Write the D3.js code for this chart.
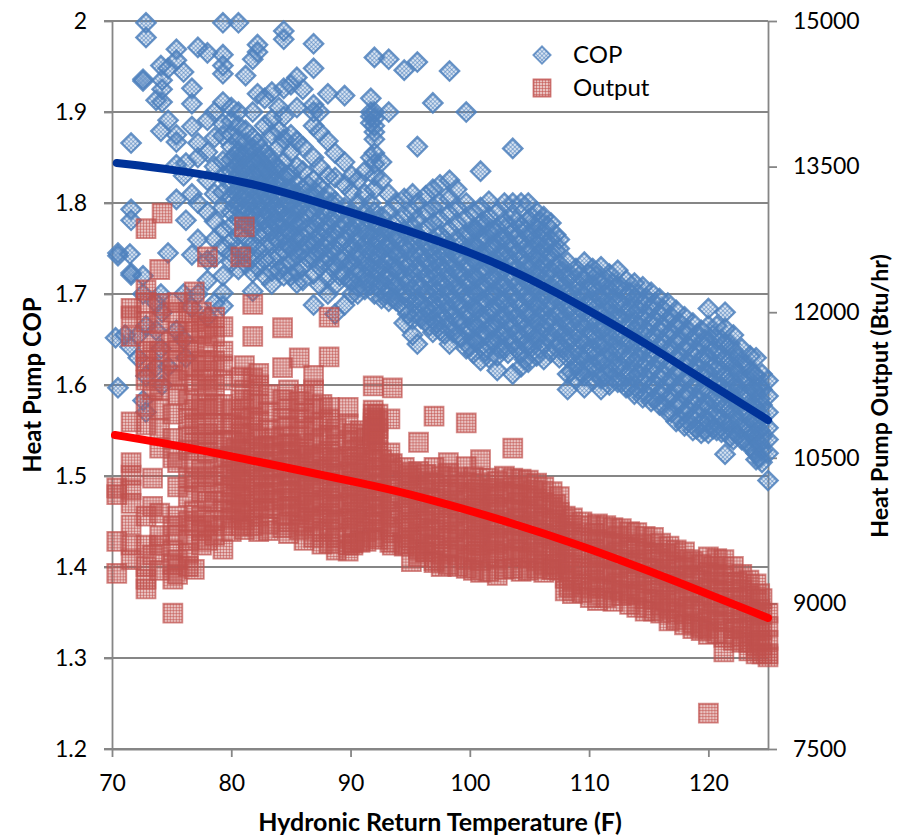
<!DOCTYPE html>
<html>
<head>
<meta charset="utf-8">
<script src="https://d3js.org/d3.v7.min.js"></script>
<style>
  html, body { margin: 0; padding: 0; background: #fff; }
  text { font-family: Lato, "Noto Sans", sans-serif; fill: #000; }
</style>
</head>
<body>
<div id="chart"></div>
<script>
// Axis ticks
const xTicks = [70, 80, 90, 100, 110, 120];
const copTicks = [1.2, 1.3, 1.4, 1.5, 1.6, 1.7, 1.8, 1.9, 2];
const outputTicks = [7500, 9000, 10500, 12000, 13500, 15000];

// Scatter data, each row is [temperature, value, value, ...]
const copRows = [
  [70.3,1.652],[70.5,1.745,1.742,1.597],[71.1,1.655],[71.5,1.642,1.744],
  [71.6,1.866,1.793,1.781,1.723,1.721],[72.2,1.655,1.63],[72.6,1.936,1.934,1.583,1.72,1.70],
  [72.85,1.998,1.982,1.57,1.665,1.61],[73.7,1.913,1.66,1.62,1.69],[74.1,1.951,1.879,1.70,1.64],
  [74.2,1.935,1.925,1.911,1.68,1.60],[74.7,1.948,1.891,1.745,1.62],[75.4,1.969,1.957,1.875,1.867,1.842,1.804,1.66],
  [76,1.944,1.83,1.70,1.65],[76.2,1.781,1.844,1.63],[76.7,1.926,1.909,1.884,1.743,1.81,1.685],
  [77.2,1.971,1.866,1.85,1.80,1.76,1.70],[78,1.965,1.891,1.856,1.825,1.79,1.737,1.715,1.675],
  [78.6,1.90,1.872,1.84,1.81,1.78,1.76,1.74,1.69],
  [79.3,1.998,1.963,1.951,1.942,1.911,1.887,1.874,1.846,1.83,1.812,1.795,1.77,1.752,1.72,1.701,1.687],
  [80,1.905,1.89,1.875,1.862,1.848,1.835,1.82,1.806,1.79,1.775,1.758,1.745,1.735],
  [80.6,1.998,1.90,1.885,1.87,1.857,1.843,1.83,1.815,1.80,1.782,1.765,1.75,1.727],
  [81.2,1.94,1.88,1.866,1.852,1.838,1.824,1.81,1.795,1.778,1.762,1.745,1.733],
  [81.8,1.958,1.90,1.872,1.86,1.845,1.832,1.818,1.803,1.788,1.772,1.755,1.74,1.724,1.703],
  [82.2,1.974,1.966,1.92,1.866,1.85,1.837,1.825,1.81,1.796,1.78,1.766,1.75,1.73],
  [82.8,1.915,1.885,1.855,1.84,1.826,1.812,1.798,1.782,1.768,1.752,1.738,1.72],
  [83.4,1.922,1.892,1.875,1.845,1.83,1.815,1.80,1.785,1.77,1.755,1.74,1.725,1.711],
  [84,1.905,1.88,1.862,1.838,1.82,1.805,1.79,1.773,1.758,1.742,1.726],
  [84.4,1.989,1.98,1.926,1.895,1.87,1.845,1.828,1.81,1.795,1.78,1.765,1.748,1.73,1.72],
  [85,1.93,1.875,1.856,1.832,1.816,1.80,1.785,1.768,1.752,1.736,1.72],
  [85.5,1.938,1.905,1.868,1.84,1.822,1.806,1.79,1.775,1.758,1.742,1.725,1.712],
  [86,1.925,1.862,1.835,1.815,1.798,1.78,1.763,1.748,1.73,1.715],
  [86.9,1.975,1.948,1.908,1.90,1.885,1.85,1.825,1.807,1.79,1.772,1.755,1.74,1.722,1.688],
  [87.4,1.90,1.878,1.84,1.818,1.80,1.782,1.765,1.748,1.73,1.71],
  [88.1,1.92,1.868,1.83,1.81,1.793,1.776,1.758,1.74,1.70,1.718],
  [88.7,1.855,1.828,1.802,1.785,1.768,1.75,1.732,1.71,1.678],
  [89.5,1.918,1.845,1.82,1.795,1.778,1.76,1.74,1.72,1.688],
  [90.1,1.83,1.812,1.79,1.772,1.752,1.735,1.715,1.70],
  [90.6,1.825,1.80,1.782,1.763,1.745,1.727,1.708,1.70],
  [91.2,1.835,1.81,1.79,1.772,1.755,1.737,1.72,1.705],
  [91.7,1.915,1.90,1.895,1.888,1.85,1.80,1.78,1.762,1.745,1.728,1.71],
  [92,1.96,1.90,1.893,1.885,1.878,1.87,1.855,1.843,1.83,1.815,1.79,1.77,1.753,1.736,1.718,1.70],
  [92.6,1.845,1.825,1.785,1.765,1.748,1.73,1.713,1.695],
  [93.2,1.958,1.90,1.81,1.79,1.772,1.755,1.74,1.722,1.705,1.692],
  [93.8,1.80,1.78,1.763,1.745,1.728,1.71,1.693],
  [94.5,1.946,1.805,1.785,1.77,1.752,1.735,1.718,1.70,1.685,1.668],
  [95.2,1.81,1.79,1.774,1.756,1.74,1.722,1.705,1.69,1.672,1.655],
  [95.6,1.955,1.862,1.80,1.782,1.765,1.748,1.73,1.712,1.695,1.68,1.645],
  [96.3,1.808,1.79,1.772,1.755,1.738,1.72,1.703,1.685,1.67],
  [96.9,1.91,1.815,1.795,1.778,1.76,1.744,1.726,1.708,1.69,1.672,1.658],
  [97.5,1.82,1.80,1.782,1.765,1.748,1.73,1.713,1.695,1.678,1.66],
  [98.3,1.825,1.945,1.805,1.788,1.77,1.752,1.735,1.718,1.70,1.683,1.665,1.645],
  [98.9,1.815,1.795,1.778,1.76,1.742,1.725,1.708,1.69,1.672,1.655],
  [99.7,1.90,1.80,1.782,1.765,1.748,1.73,1.713,1.696,1.678,1.66,1.64],
  [100.3,1.79,1.772,1.755,1.738,1.72,1.703,1.686,1.668,1.65,1.635],
  [100.9,1.835,1.795,1.778,1.76,1.743,1.726,1.708,1.69,1.673,1.655,1.627],
  [101.6,1.802,1.785,1.768,1.75,1.733,1.715,1.698,1.68,1.663,1.645,1.63],
  [102.3,1.79,1.772,1.755,1.738,1.72,1.703,1.686,1.668,1.65,1.632,1.616],
  [102.9,1.80,1.78,1.762,1.745,1.728,1.71,1.693,1.676,1.658,1.64],
  [103.6,1.86,1.80,1.785,1.768,1.75,1.733,1.716,1.698,1.68,1.663,1.645,1.612],
  [104.3,1.80,1.775,1.758,1.74,1.723,1.706,1.688,1.67,1.653,1.635,1.62],
  [104.9,1.80,1.782,1.765,1.748,1.73,1.713,1.696,1.678,1.66,1.643,1.625],
  [105.6,1.79,1.772,1.755,1.738,1.72,1.703,1.686,1.668,1.65,1.632],
  [106.2,1.785,1.768,1.75,1.733,1.716,1.698,1.68,1.663,1.645,1.628],
  [106.8,1.778,1.76,1.743,1.726,1.708,1.69,1.673,1.655,1.636],
  [107.5,1.76,1.75,1.733,1.716,1.698,1.68,1.663,1.645,1.63],
  [108.2,1.735,1.718,1.70,1.683,1.665,1.648,1.612,1.595,1.63],
  [108.9,1.728,1.71,1.693,1.675,1.658,1.64,1.622,1.606],
  [109.6,1.735,1.715,1.698,1.68,1.663,1.645,1.627,1.61,1.597],
  [110.3,1.728,1.71,1.693,1.675,1.658,1.64,1.622,1.605],
  [111,1.73,1.712,1.695,1.678,1.66,1.643,1.625,1.607,1.595],
  [111.7,1.722,1.705,1.688,1.67,1.653,1.636,1.618,1.60],
  [112.4,1.726,1.708,1.69,1.673,1.656,1.638,1.62,1.603],
  [113.1,1.715,1.698,1.68,1.663,1.646,1.628,1.61,1.597],
  [113.8,1.712,1.695,1.678,1.66,1.643,1.625,1.608,1.59],
  [114.5,1.708,1.69,1.673,1.656,1.638,1.62,1.603,1.586],
  [115.2,1.702,1.685,1.668,1.65,1.633,1.616,1.598,1.582],
  [115.9,1.695,1.678,1.66,1.643,1.626,1.608,1.59,1.578],
  [116.6,1.69,1.672,1.655,1.638,1.62,1.603,1.585,1.57],
  [117.3,1.682,1.665,1.648,1.63,1.613,1.596,1.578,1.56],
  [118,1.675,1.658,1.64,1.623,1.606,1.588,1.57,1.555],
  [118.7,1.668,1.65,1.633,1.616,1.598,1.58,1.563,1.55],
  [119.4,1.66,1.645,1.628,1.61,1.593,1.575,1.558,1.547],
  [120,1.684,1.665,1.648,1.63,1.613,1.596,1.578,1.56,1.547],
  [120.7,1.665,1.65,1.633,1.616,1.598,1.58,1.563,1.55],
  [121.4,1.68,1.662,1.645,1.628,1.61,1.593,1.575,1.558,1.549,1.524],
  [122.1,1.655,1.638,1.62,1.603,1.586,1.568,1.55,1.54],
  [122.8,1.64,1.622,1.605,1.588,1.57,1.553,1.54],
  [123.5,1.632,1.615,1.598,1.58,1.563,1.547,1.532],
  [124,1.63,1.61,1.592,1.575,1.558,1.54,1.525,1.518],
  [124.5,1.612,1.595,1.578,1.56,1.543,1.528,1.515],
  [125,1.605,1.588,1.57,1.553,1.54,1.525,1.495]
];

// The crowded middle of the COP cloud, where single markers can only be estimated
const copCoreRows = [
  [80.3,1.852,1.84,1.826,1.812,1.797],[80.9,1.85,1.836,1.82,1.806,1.79],[81.5,1.858,1.844,1.83,1.816,1.80,1.785],
  [82.5,1.86,1.845,1.832,1.818,1.803,1.788],[83.1,1.85,1.836,1.822,1.806,1.79,1.775],[83.7,1.84,1.825,1.81,1.795,1.78,1.763],
  [84.7,1.83,1.815,1.80,1.785,1.77,1.755],[85.3,1.81,1.795,1.78,1.763,1.747],[86.4,1.82,1.806,1.79,1.772,1.755,1.74],
  [87.1,1.812,1.795,1.778,1.76,1.745],[87.8,1.805,1.788,1.77,1.752,1.735],[88.4,1.80,1.782,1.765,1.748,1.73],
  [89.1,1.79,1.772,1.755,1.738,1.72],[89.9,1.785,1.768,1.75,1.733,1.715],[90.4,1.775,1.757,1.74,1.722],
  [91.5,1.782,1.765,1.748,1.73,1.713],[92.3,1.778,1.76,1.743,1.726,1.708],[92.9,1.77,1.752,1.735,1.718,1.70],
  [93.5,1.765,1.748,1.73,1.713,1.696],[94.1,1.76,1.743,1.726,1.708,1.69],[94.8,1.765,1.748,1.73,1.712,1.695,1.678],
  [95.9,1.76,1.742,1.725,1.707,1.69,1.673],[96.6,1.75,1.733,1.716,1.698,1.68,1.665],[97.2,1.755,1.737,1.72,1.703,1.685,1.668],
  [97.9,1.76,1.743,1.726,1.708,1.69,1.673,1.656],[98.6,1.745,1.728,1.71,1.693,1.676,1.658],[99.3,1.755,1.74,1.722,1.705,1.687,1.67,1.652],
  [100,1.765,1.747,1.73,1.712,1.695,1.677,1.66,1.642],[100.6,1.77,1.752,1.735,1.717,1.70,1.682,1.664,1.647],
  [101.3,1.777,1.76,1.742,1.725,1.707,1.69,1.672,1.655,1.637],[101.9,1.77,1.752,1.735,1.718,1.70,1.683,1.665,1.648],
  [102.6,1.762,1.745,1.727,1.71,1.693,1.675,1.657,1.64],[103.2,1.775,1.757,1.74,1.722,1.705,1.687,1.67,1.652,1.635],
  [103.9,1.78,1.762,1.745,1.727,1.71,1.692,1.675,1.657,1.64],[104.6,1.77,1.75,1.733,1.715,1.698,1.68,1.662,1.645,1.628],
  [105.2,1.785,1.765,1.748,1.73,1.712,1.695,1.677,1.66,1.642],[105.9,1.78,1.762,1.745,1.727,1.71,1.692,1.675,1.657,1.64],
  [106.5,1.775,1.757,1.74,1.722,1.705,1.687,1.67,1.652],[107.2,1.765,1.748,1.73,1.712,1.695,1.677,1.66,1.642],
  [107.8,1.725,1.708,1.69,1.672,1.655,1.64],[108.5,1.72,1.702,1.685,1.667,1.65,1.632,1.615],
  [109.2,1.72,1.703,1.685,1.668,1.65,1.633,1.615],[109.9,1.722,1.705,1.688,1.67,1.653,1.635,1.618],
  [110.6,1.72,1.702,1.685,1.667,1.65,1.632,1.614],[111.3,1.715,1.698,1.68,1.663,1.645,1.628,1.61],
  [112,1.712,1.695,1.678,1.66,1.643,1.625,1.608],[112.7,1.708,1.69,1.673,1.655,1.638,1.62,1.603],
  [113.4,1.702,1.685,1.668,1.65,1.633,1.615,1.598],[114.1,1.70,1.683,1.665,1.648,1.63,1.612,1.595],
  [114.8,1.695,1.678,1.66,1.643,1.625,1.608,1.59],[115.5,1.69,1.672,1.655,1.637,1.62,1.602,1.585],
  [116.2,1.683,1.665,1.648,1.63,1.613,1.595,1.578],[116.9,1.675,1.658,1.64,1.623,1.605,1.588,1.57],
  [117.6,1.668,1.65,1.633,1.615,1.598,1.58,1.563],[118.3,1.66,1.643,1.625,1.608,1.59,1.573,1.56],
  [119,1.655,1.637,1.62,1.602,1.585,1.568,1.552],[119.7,1.65,1.632,1.615,1.597,1.58,1.563,1.55],
  [120.4,1.655,1.638,1.62,1.603,1.585,1.568,1.552],[121.1,1.65,1.633,1.615,1.598,1.58,1.563,1.548],
  [121.8,1.645,1.628,1.61,1.593,1.575,1.558,1.543],[122.5,1.63,1.613,1.595,1.578,1.56,1.545],
  [123.2,1.622,1.605,1.588,1.57,1.553,1.538],[123.8,1.612,1.595,1.578,1.56,1.545,1.53],[124.3,1.60,1.585,1.568,1.55,1.535,1.52]
];

const outputRows = [
  [70.4,10190,10120,9640,9310],
  [71.6,12040,11960,11750,10870,10450,10320,10170,10030,9810,9600,9450],
  [72.85,12860,12230,12100,11900,11600,11500,11440,11300,11050,10840,9900,9600,9380,9150,9250],
  [73.4,11700,11200,10290,10000,9500],[74,12440,12090,11880,11600,11400,11200,11000,10800,10600,9930,9700,9600,9340],
  [74.2,13020],[75.1,12000,11700,11500,11350,10950,10700,10500,9800,9550,9400,9250,8900],
  [75.5,12100,11800,11600,11300,11150,10450,10200,9900,9700,9450,9300],
  [76.4,12000,11800,11600,11400,11100,10900,10720,10580,10300,10100,9850,9650,9520,9380],
  [76.9,12210,11900,11650,11450,11250,11000,10850,10650,10450,10250,9950,9800,9350],
  [77.5,12000,11780,11500,11300,11050,10850,10650,10380,10150,9900,9750,9600],
  [78,12570,11640,11850,11400,11200,11000,10750,10550,10300,10050,9800,9650],
  [78.6,11950,11750,11500,11250,11050,10850,10650,10450,10250,10050,9850,9700],
  [79.3,11850,11600,11450,11300,11050,10850,10680,10500,10320,10140,9960,9800,9560],
  [80,11000,10850,10680,10520,10360,10200,10040,9880,9740],
  [80.8,12570,11330,11100,10900,10750,10580,10420,10260,10100,9940,9800],
  [81.1,12880,11450,11200,11000,10820,10660,10500,10340,10180,10020,9860,9760],
  [81.8,12080,11750,11320,11100,10920,10750,10600,10440,10280,10120,9960,9800],
  [82.3,11370,11250,11050,10880,10700,10540,10380,10220,10060,9900,9740],
  [83.1,11150,10970,10790,10620,10460,10300,10140,9980,9820,9750],
  [84.3,11840,11430,11100,10900,10720,10560,10400,10240,10080,9920,9780],
  [84.8,11200,11000,10820,10640,10480,10320,10160,10000,9840,9720],
  [85.7,11530,11080,10900,10720,10560,10400,10240,10080,9920,9760],
  [86.1,11150,10960,10780,10600,10440,10280,10120,9960,9800,9650],
  [86.9,11350,11200,11000,10820,10650,10490,10330,10170,10010,9850,9680],
  [87.6,11050,10870,10700,10540,10380,10220,10060,9900,9740,9610],
  [88.2,11950,11540,11020,10900,10730,10570,10410,10250,10090,9930,9770,9620],
  [88.8,10800,10640,10480,10320,10160,10000,9840,9680,9550],
  [89.8,11020,10850,10680,10520,10360,10200,10040,9880,9720,9600,9540],
  [90.2,10750,10580,10420,10260,10100,9940,9780,9620,9600],
  [90.8,10780,10610,10450,10290,10130,9970,9810,9650,9630],
  [91.3,10700,10540,10380,10220,10060,9900,9740,9640],
  [91.9,11240,10990,10950,10900,10860,10820,10780,10740,10700,10640,10480,10320,10160,10000,9840,9680],
  [92.3,10950,10880,10800,10740,10680,10560,10400,10240,10080,9920,9760,9660],
  [93.3,10900,10550,10430,10270,10110,9950,9790,9630],
  [93.5,11220,10440,10370,10210,10050,9890,9730,9600],
  [94.5,10400,10250,10090,9930,9770,9610,9590],
  [95.1,10350,10290,10130,9970,9810,9650,9430],
  [95.7,10660,10360,10200,10040,9880,9720,9560,9480],
  [96.3,10330,10170,10010,9850,9690,9530,9530],
  [97,10930,10400,10240,10080,9920,9760,9600,9440,9420],
  [97.6,10310,10150,9990,9830,9670,9510,9380],
  [98.2,10450,10340,10180,10020,9860,9700,9540,9400],
  [99,10300,10140,9980,9820,9660,9500,9380],
  [99.7,10860,10410,10250,10090,9930,9770,9610,9450,9360],
  [100.3,10300,10140,9980,9820,9660,9500,9340],
  [100.9,10480,10240,10080,9920,9760,9600,9440,9320],
  [101.6,10290,10130,9970,9810,9650,9490,9330],
  [102.3,10260,10100,9940,9780,9620,9460,9290],
  [102.9,10310,10150,9990,9830,9670,9510,9350],
  [103.6,10600,10290,10130,9970,9810,9650,9490,9360],
  [104.3,10280,10120,9960,9800,9640,9480,9330],
  [104.9,10270,10110,9950,9790,9630,9470,9340],
  [105.6,10240,10080,9920,9760,9600,9440,9360],
  [106.2,10200,10040,9880,9720,9560,9400,9320],
  [106.9,10150,9990,9830,9670,9510,9350,9350],
  [107.5,10100,9940,9780,9620,9460,9340],
  [108,9900,9740,9580,9420,9260,9130],
  [108.6,9880,9720,9560,9400,9240,9100],
  [109.4,9840,9680,9520,9360,9200,9110],
  [110.1,9800,9640,9480,9320,9160,9060],
  [110.7,9820,9660,9500,9340,9180,9030],
  [111.4,9800,9640,9480,9320,9160,9060],
  [112,9780,9620,9460,9300,9140,9020],
  [112.7,9770,9610,9450,9290,9130,9080],
  [113.4,9740,9580,9420,9260,9100,8990],
  [114,9730,9570,9410,9250,9090,8960],
  [114.7,9690,9530,9370,9210,9050,8920],
  [115.4,9680,9520,9360,9200,9040,8920],
  [116,9620,9460,9300,9140,8980,8900],
  [116.7,9590,9430,9270,9110,8950,8820],
  [117.3,9550,9390,9230,9070,8910,8830],
  [118,9530,9370,9210,9050,8890,8780],
  [118.7,9430,9270,9110,8950,8800,8740],
  [119.4,9400,9240,9080,8920,8760,8720],
  [120,9480,9320,9160,9000,8840,8680,8740,7870],
  [120.7,9460,9300,9140,8980,8820,8690],
  [121.3,9450,9290,9130,8970,8810,8650,8500],
  [122.1,9380,9220,9060,8900,8740,8620],
  [122.8,9300,9140,8980,8820,8660,8600],
  [123.4,9240,9080,8920,8760,8600,8510],
  [124,9200,9040,8880,8720,8560,8480],
  [124.5,9050,8890,8730,8570,8480],
  [125,8900,8760,8620,8480,8450]
];

// Same for the crowded middle of the output cloud
const outputCoreRows = [
  [80.4,10600,10440,10280,10120,9960],[82.7,10620,10460,10300,10140,9980],[83.6,10700,10540,10380,10220,10060],
  [85,10640,10480,10320,10160,10000],[86.5,10520,10360,10200,10040,9880],[88.5,10500,10340,10180,10020,9860],
  [90.5,10500,10340,10180,10020,9860],[92.6,10480,10320,10160,10000,9840],[94.8,10320,10160,10000,9840,9680],
  [96.6,10250,10090,9930,9770,9610],[98.6,10220,10060,9900,9740,9580],[100.6,10180,10020,9860,9700,9540],
  [102,10180,10020,9860,9700,9540],[104,10200,10040,9880,9720,9560],[105.3,10160,10000,9840,9680,9520],
  [107.2,10020,9860,9700,9540,9400],[108.3,9810,9650,9490,9330,9170],[110.4,9720,9560,9400,9240],
  [112.4,9690,9530,9370,9210],[114.4,9610,9450,9290,9130],[116.4,9510,9350,9190,9030],
  [118.4,9450,9290,9130,8970],[120.4,9380,9220,9060,8900],[122.4,9220,9060,8900,8740],[124.3,9100,8940,8780,8620]
];

// Trend lines, temperature plus value
const trendTemps = [70.4, 75, 81.6, 88, 94.2, 100, 105, 110, 115, 120, 125];
const copTrend = [1.844, 1.837, 1.823, 1.798, 1.7725, 1.7465, 1.7176, 1.682, 1.644, 1.602, 1.5615];
const outputTrendTemps = [70.25, 75.3, 81.6, 92.5, 94.2, 100.9, 109.3, 117.7, 125];
const outputTrend = [10735, 10632, 10477, 10199, 10148, 9931, 9602, 9210, 8850];

const width = 907;
const height = 836;
const margin = {top: 21, right: 139, bottom: 87, left: 112};

const svg = d3.select("#chart").append("svg")
    .attr("width", width)
    .attr("height", height)
    .style("display", "block");

const x = d3.scaleLinear().domain([70, 125]).range([margin.left, width - margin.right]);
const yCop = d3.scaleLinear().domain([1.2, 2]).range([height - margin.bottom, margin.top]);
const yOutput = d3.scaleLinear().domain([7500, 15000]).range([height - margin.bottom, margin.top]);

// Marker fills, the pattern moves with each marker's translate so overlaps build up
const defs = svg.append("defs");
function addGrid(id, color, base, line) {
    const p = defs.append("pattern")
        .attr("id", id)
        .attr("patternUnits", "userSpaceOnUse")
        .attr("width", 3)
        .attr("height", 3);
    p.append("rect").attr("width", 3).attr("height", 3).attr("fill", color).attr("opacity", base);
    p.append("rect").attr("width", 3).attr("height", 1).attr("fill", color).attr("opacity", line);
    p.append("rect").attr("width", 1).attr("height", 3).attr("fill", color).attr("opacity", line);
}
addGrid("gridBlue", "#4F81BD", 0.22, 0.55);
addGrid("gridRed", "#C0504D", 0.35, 0.55);

// Gridlines first, they run under the markers
svg.append("g")
    .selectAll("line")
    .data(copTicks)
    .enter().append("line")
    .attr("x1", margin.left - 8)
    .attr("x2", width - margin.right)
    .attr("y1", d => yCop(d))
    .attr("y2", d => yCop(d))
    .attr("stroke", "#868686")
    .attr("stroke-width", 1.8);

const xAxis = svg.append("g")
    .attr("transform", `translate(0,${height - margin.bottom})`)
    .call(d3.axisBottom(x).tickValues(xTicks).tickSize(8).tickSizeOuter(0).tickPadding(18));
const leftAxis = svg.append("g")
    .attr("transform", `translate(${margin.left},0)`)
    .call(d3.axisLeft(yCop).tickValues(copTicks).tickFormat(d => d === 2 ? "2" : d3.format(".1f")(d)).tickSize(8).tickSizeOuter(0).tickPadding(17));
const rightAxis = svg.append("g")
    .attr("transform", `translate(${width - margin.right},0)`)
    .call(d3.axisRight(yOutput).tickValues(outputTicks).tickFormat(d3.format("d")).tickSize(9).tickSizeOuter(0).tickPadding(16));

[xAxis, leftAxis, rightAxis].forEach(a => {
    a.selectAll("path").attr("stroke", "#868686").attr("stroke-width", 1.8);
    a.selectAll("line").attr("stroke", "#868686").attr("stroke-width", 1.8);
    a.selectAll("text").style("font-size", "23px").style("font-family", "Lato").attr("fill", "#000");
});

function toPoints(rows) {
    return rows.flatMap(r => r.slice(1).map(v => [r[0], v]));
}

const diamond = d3.symbol().type(d3.symbolSquare).size(190)();
const square = d3.symbol().type(d3.symbolSquare).size(361)();

// COP markers
svg.append("g")
    .selectAll("path")
    .data(toPoints(copRows.concat(copCoreRows)))
    .enter().append("path")
    .attr("d", diamond)
    .attr("transform", d => `translate(${x(d[0])},${yCop(d[1])}) rotate(45)`)
    .attr("fill", "url(#gridBlue)")
    .attr("stroke", "#4F81BD")
    .attr("stroke-opacity", 0.85)
    .attr("stroke-width", 2.2);

// Output markers
svg.append("g")
    .selectAll("path")
    .data(toPoints(outputRows.concat(outputCoreRows)))
    .enter().append("path")
    .attr("d", square)
    .attr("transform", d => `translate(${x(d[0])},${yOutput(d[1])})`)
    .attr("fill", "url(#gridRed)")
    .attr("stroke", "#C0504D")
    .attr("stroke-opacity", 0.65)
    .attr("stroke-width", 1.8);

// Trend lines
const copLine = d3.line().x((d, i) => x(trendTemps[i])).y(d => yCop(d)).curve(d3.curveBasis);
const outputLine = d3.line().x((d, i) => x(outputTrendTemps[i])).y(d => yOutput(d)).curve(d3.curveBasis);

svg.append("path")
    .datum(copTrend)
    .attr("d", copLine)
    .attr("fill", "none")
    .attr("stroke", "#003399")
    .attr("stroke-width", 8)
    .attr("stroke-linecap", "round");

svg.append("path")
    .datum(outputTrend)
    .attr("d", outputLine)
    .attr("fill", "none")
    .attr("stroke", "#FF0000")
    .attr("stroke-width", 8)
    .attr("stroke-linecap", "round");

// Legend
const legendData = [
    {label: "COP", y: 55, shape: d3.symbol().type(d3.symbolSquare).size(150)(), rot: 45, fill: "url(#gridBlue)", color: "#4F81BD"},
    {label: "Output", y: 88, shape: d3.symbol().type(d3.symbolSquare).size(289)(), rot: 0, fill: "url(#gridRed)", color: "#C0504D"}
];
legendData.forEach(item => {
    svg.append("path")
        .attr("d", item.shape)
        .attr("transform", `translate(542,${item.y}) rotate(${item.rot})`)
        .attr("fill", item.fill)
        .attr("stroke", item.color)
        .attr("stroke-opacity", 0.8)
        .attr("stroke-width", 1.8);
    svg.append("text")
        .attr("x", 573)
        .attr("y", item.y + 8)
        .style("font-size", "24px")
        .text(item.label);
});

// Axis titles
svg.append("text")
    .attr("x", 440)
    .attr("y", 831)
    .attr("text-anchor", "middle")
    .style("font-size", "25px")
    .style("font-weight", "bold")
    .text("Hydronic Return Temperature (F)");

svg.append("text")
    .attr("transform", "translate(41,385) rotate(-90)")
    .attr("text-anchor", "middle")
    .style("font-size", "24px")
    .style("font-weight", "bold")
    .text("Heat Pump COP");

svg.append("text")
    .attr("transform", "translate(888,396) rotate(-90)")
    .attr("text-anchor", "middle")
    .style("font-size", "23.2px")
    .style("font-weight", "bold")
    .text("Heat Pump Output (Btu/hr)");
</script>
</body>
</html>
